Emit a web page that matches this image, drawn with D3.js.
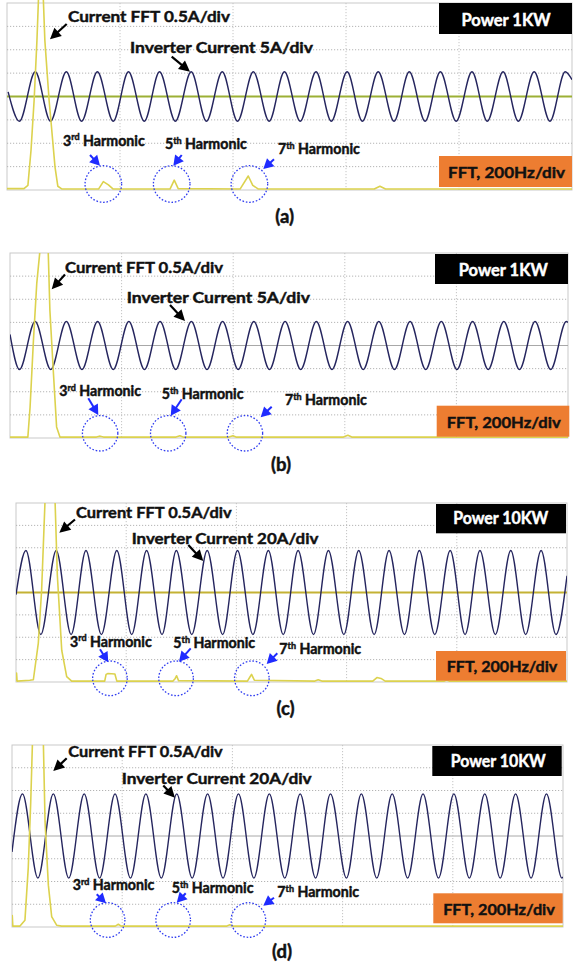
<!DOCTYPE html>
<html>
<head>
<meta charset="utf-8">
<script src="https://cdn.jsdelivr.net/npm/d3@7"></script>
<style>
  body { margin: 0; background: #fff; }
  svg { display: block; }
  text { font-family: Lato, "Open Sans", sans-serif; font-weight: bold; stroke-width: 0.45px; paint-order: stroke; }
</style>
</head>
<body>
<script>
// ---- data ----
// time axis in scope divisions (0..10), current in A, FFT in Hz / A
const panelTags = ["(a)", "(b)", "(c)", "(d)"];
const powerLabels = ["Power 1KW", "Power 1KW", "Power 10KW", "Power 10KW"];
const currentLabels = ["Inverter Current 5A/div", "Inverter Current 5A/div", "Inverter Current 20A/div", "Inverter Current 20A/div"];
const currentPerDiv = [5, 5, 20, 20];
const fftPerDiv = 0.5;      // A/div
const hzPerDiv = 200;       // Hz/div
const harmonicNames = [["3", "rd"], ["5", "th"], ["7", "th"]];

// inverter current: peak / trough instants (div) and peak value (A)
const peaksA   = [0.50, 1.05, 1.60, 2.15, 2.70, 3.26, 3.81, 4.36, 4.91, 5.47, 6.02, 6.57, 7.12, 7.67, 8.23, 8.78, 9.33, 9.88];
const troughsA = [0.22, 0.77, 1.32, 1.88, 2.43, 2.98, 3.53, 4.08, 4.64, 5.19, 5.74, 6.29, 6.85, 7.40, 7.95, 8.50, 9.05, 9.61];
const peaksB   = [0.45, 1.01, 1.57, 2.13, 2.69, 3.25, 3.81, 4.37, 4.93, 5.49, 6.05, 6.61, 7.17, 7.73, 8.29, 8.85, 9.41, 9.97];
const troughsB = [0.17, 0.73, 1.29, 1.85, 2.41, 2.97, 3.53, 4.09, 4.65, 5.21, 5.77, 6.33, 6.89, 7.45, 8.01, 8.57, 9.13, 9.69];
const peaksC   = [0.18, 0.73, 1.27, 1.83, 2.37, 2.91, 3.47, 4.02, 4.58, 5.12, 5.67, 6.22, 6.77, 7.32, 7.88, 8.42, 8.98, 9.53];
const troughsC = [0.45, 1.00, 1.55, 2.10, 2.65, 3.19, 3.75, 4.30, 4.85, 5.40, 5.95, 6.50, 7.05, 7.60, 8.15, 8.70, 9.25, 9.80];
const peaksD   = [0.19, 0.75, 1.31, 1.87, 2.43, 2.99, 3.55, 4.11, 4.67, 5.23, 5.78, 6.34, 6.90, 7.46, 8.02, 8.58, 9.14, 9.70];
const troughsD = [0.47, 1.03, 1.59, 2.15, 2.71, 3.27, 3.83, 4.39, 4.95, 5.51, 6.07, 6.62, 7.18, 7.74, 8.30, 8.86, 9.42, 9.98];
const peakAmps = [5.3, 5.2, 37.5, 37];
const traceStarts = [[0.02, 1.0], [0, 2.4], [0, -2], [0, -14]];
const traceEnds = [[10, 3.6], [10, 5.0], [10, 15], [10, -36]];

// current FFT [Hz, A]
const fftA = [[0,0.03],[60,0.03],[74,0.1],[85,0.85],[96,1.92],[106,3.2],[120,5.5],[134,3.2],[149,1.92],[156,1.45],[170,0.49],[180,0.08],[195,0.02],
  [324,0.02],[341,0.18],[359,0.11],[376,0.02],[577,0.02],[592,0.21],[606,0.03],[825,0.02],[854,0.3],[870,0.1],[890,0.02],
  [1300,0.02],[1320,0.08],[1340,0.02],[2000,0.02]];
const fftB = [[0,0.02],[64,0.02],[72,0.67],[84,2.11],[96,3.35],[107,4.03],[122,5.5],[137,4.03],[143,2.76],[155,1.47],[167,0.24],[179,0.02],
  [310,0.02],[323,0.04],[335,0.02],[595,0.02],[609,0.05],[620,0.02],[785,0.02],[799,0.05],[810,0.02],[1195,0.02],[1211,0.06],[1225,0.02],[2000,0.02]];
const fftC = [[0,0.02],[2,0.2],[4,0.02],[50,0.04],[63,0.05],[81,0.87],[93,2.05],[105,3.99],[118,5.5],[142,4.0],[150,2.39],[166,0.71],[184,0.12],[202,0.02],
  [322,0.02],[327,0.17],[334,0.19],[359,0.18],[366,0.02],[570,0.02],[578,0.08],[583,0.14],[590,0.03],[840,0.02],[848,0.1],[855,0.17],[865,0.04],
  [1085,0.02],[1097,0.05],[1110,0.02],[1295,0.02],[1310,0.1],[1325,0.08],[1340,0.02],[1555,0.02],[1563,0.04],[1572,0.02],[2000,0.02]];
const fftD = [[0,0.02],[1,0.25],[3,0.02],[29,0.02],[47,0.15],[59,1.3],[68,2.75],[74,4.0],[94,5.5],[114,4.0],[120,2.31],[132,0.92],[144,0.23],[162,0.04],[180,0.02],
  [375,0.02],[386,0.06],[396,0.02],[780,0.02],[791,0.05],[800,0.02],[2000,0.02]];

// harmonic frequencies circled on each panel (Hz)
const harmonicHz = [[341, 583, 858], [323, 567, 842], [341, 581, 856], [347, 585, 858]];
// reference (zero) line of the FFT channel, only visible on (a) and (c)
const zeroLineColor = ["#9cb035", null, "#c4b234", null];

const peaks = [peaksA, peaksB, peaksC, peaksD];
const troughs = [troughsA, troughsB, troughsC, troughsD];
const ffts = [fftA, fftB, fftC, fftD];

// ---- layout (pixels) ----
const layout = [
  { frame: [7, 3, 572, 190], fftLab: [68, 22, 162], fftArr: [66.7, 24, 50, 39.3], invLab: [130, 52.5, 183], invArr: [171.7, 56.7, 190, 71.7],
    power: [439, 3, 133, 31, 506, 26, 89], fftBox: [439, 156, 133, 31, 506.5, 177.5, 117],
    harm: [[63, 145.7], [165, 149], [278, 154]], hArr: [[90, 155, 100, 165.7], [181.7, 155, 173.3, 165.7], [274, 159.3, 263.3, 169]],
    circ: [18.3, 6], tag: [284.7, 223] },
  { frame: [10, 253, 568, 438], fftLab: [65, 272.7, 158], fftArr: [65, 274.5, 51.7, 289.3], invLab: [126.7, 303.3, 183.3], invArr: [170, 305, 185, 321],
    power: [435, 254, 133, 30, 503.3, 276, 89], fftBox: [436.7, 405.7, 132.6, 31, 503.7, 428, 114],
    harm: [[59.3, 396], [161.7, 399.3], [285, 405]], hArr: [[88.3, 398.3, 98.3, 415], [181.7, 399.3, 170.7, 415.7], [271.7, 406.7, 260.7, 417.3]],
    circ: [17.7, 4.7], tag: [281, 471] },
  { frame: [16, 503, 567, 682], fftLab: [76, 518.3, 155.7], fftArr: [75, 519.5, 59.3, 532.7], invLab: [131.7, 544, 186.7], invArr: [188.3, 545, 203.3, 561],
    power: [436, 504, 130, 29.3, 500.8, 524.3, 95], fftBox: [436, 651, 130, 29.7, 502, 671.7, 110.6],
    harm: [[70, 646.7], [173.3, 648.3], [279.3, 654]], hArr: [[100, 649.3, 108.3, 662.3], [190.7, 648.3, 179, 661.7], [277.3, 653.3, 266.7, 664]],
    circ: [17.3, 3.7], tag: [285.5, 715] },
  { frame: [12, 745, 563, 927], fftLab: [68.3, 756.7, 154.4], fftArr: [66.7, 758.3, 53.3, 771], invLab: [121.7, 784.3, 190], invArr: [163.3, 785.5, 175, 797.7],
    power: [432.3, 746, 129.4, 30, 498.3, 766.7, 95], fftBox: [433.3, 893.3, 129.4, 30, 499, 915, 111.7],
    harm: [[72.7, 890.3], [171.7, 893.3], [277.3, 897.3]], hArr: [[96.7, 894.3, 106, 903.3], [185.7, 893.3, 176.7, 902.7], [274, 897.7, 263.3, 905.7]],
    circ: [17.3, 7], tag: [282, 958] }
];

const W = 573, H = 966;
const svg = d3.select("body").append("svg").attr("width", W).attr("height", H);
const defs = svg.append("defs");

let drawArrow = (g, a, color, len = 10, half = 5, width = 2) => {
  const [x1, y1, x2, y2] = a;
  const ang = Math.atan2(y2 - y1, x2 - x1);
  const bx = x2 - len * Math.cos(ang), by = y2 - len * Math.sin(ang);
  g.append("line").attr("x1", x1).attr("y1", y1).attr("x2", bx + Math.cos(ang)).attr("y2", by + Math.sin(ang))
    .attr("stroke", color).attr("stroke-width", width);
  const px = -Math.sin(ang) * half, py = Math.cos(ang) * half;
  g.append("path").attr("d", `M${x2},${y2}L${bx + px},${by + py}L${bx - px},${by - py}Z`).attr("fill", color);
};

let wavePoints = (i) => {
  const amp = peakAmps[i];
  const pts = [traceStarts[i]]
    .concat(peaks[i].map(t => [t, amp]))
    .concat(troughs[i].map(t => [t, -amp]))
    .concat([traceEnds[i]]);
  return pts.sort((p, q) => p[0] - q[0]);
};

layout.forEach((L, i) => {
  const [x0, y0, x1, y1] = L.frame;
  const g = svg.append("g");

  const x = d3.scaleLinear().domain([0, 10]).range([x0, x1]);
  const y = d3.scaleLinear().domain([-4 * currentPerDiv[i], 4 * currentPerDiv[i]]).range([y1, y0]);
  const fx = d3.scaleLinear().domain([0, 10 * hzPerDiv]).range([x0, x1]);
  const fy = d3.scaleLinear().domain([0, 8 * fftPerDiv]).range([y1, y0]);
  const gridY = d3.scaleLinear().domain([0, 8]).range([y1, y0]);

  // grid
  g.append("rect").attr("x", x0).attr("y", y0).attr("width", x1 - x0).attr("height", y1 - y0)
    .attr("fill", "#fff").attr("stroke", "#c9c9c9").attr("stroke-width", 1);
  g.append("g").selectAll("line").data(d3.range(1, 8)).join("line")
    .attr("x1", x0).attr("x2", x1).attr("y1", d => gridY(d)).attr("y2", d => gridY(d))
    .attr("stroke", d => d === 4 ? "#a8a8a8" : "#b4b4b4")
    .attr("stroke-width", 1)
    .attr("stroke-dasharray", d => d === 4 ? null : "1.2,1.8");
  g.append("g").selectAll("line").data([2, 4, 6, 8]).join("line")
    .attr("x1", d => x(d)).attr("x2", d => x(d)).attr("y1", y0).attr("y2", y1)
    .attr("stroke", "#c4c4c4").attr("stroke-width", 1).attr("stroke-dasharray", "1.2,1.8");

  const clipId = "clip" + i;
  defs.append("clipPath").attr("id", clipId).append("rect")
    .attr("x", x0).attr("y", i === 0 ? 0 : y0).attr("width", x1 - x0).attr("height", y1 - (i === 0 ? 0 : y0) + 2);
  const plot = g.append("g").attr("clip-path", `url(#${clipId})`);

  if (zeroLineColor[i]) {
    plot.append("line").attr("x1", x0).attr("x2", x1).attr("y1", y(0)).attr("y2", y(0))
      .attr("stroke", zeroLineColor[i]).attr("stroke-width", 2.2);
  }

  // inverter current trace
  plot.append("path").datum(wavePoints(i))
    .attr("fill", "none").attr("stroke", "#25255e").attr("stroke-width", 1.4)
    .attr("d", d3.line().x(d => x(d[0])).y(d => y(d[1])).curve(d3.curveMonotoneX));

  // current FFT trace
  plot.append("path").datum(ffts[i])
    .attr("fill", "none").attr("stroke", "#dcd24e").attr("stroke-width", 1.6).attr("stroke-linejoin", "round")
    .attr("d", d3.line().x(d => fx(d[0])).y(d => fy(d[1])));

  // harmonic circles
  g.append("g").selectAll("circle").data(harmonicHz[i]).join("circle")
    .attr("cx", d => fx(d)).attr("cy", y1 - L.circ[1]).attr("r", L.circ[0])
    .attr("fill", "none").attr("stroke", "#2f3cf0").attr("stroke-width", 1.3).attr("stroke-dasharray", "1.6,1.8");

  // labels with black arrows
  const ann = svg.append("g");
  ann.append("text").attr("x", L.fftLab[0]).attr("y", L.fftLab[1]).attr("font-size", 16)
    .attr("textLength", L.fftLab[2]).attr("lengthAdjust", "spacingAndGlyphs").attr("fill", "#111").attr("stroke", "#111")
    .text("Current FFT 0.5A/div");
  drawArrow(ann, L.fftArr, "#000", 11, 5.5, 2.2);
  ann.append("text").attr("x", L.invLab[0]).attr("y", L.invLab[1]).attr("font-size", 16)
    .attr("textLength", L.invLab[2]).attr("lengthAdjust", "spacingAndGlyphs").attr("fill", "#111").attr("stroke", "#111")
    .text(currentLabels[i]);
  drawArrow(ann, L.invArr, "#000", 11, 5.5, 2.2);

  // boxes
  const pb = L.power;
  ann.append("rect").attr("x", pb[0]).attr("y", pb[1]).attr("width", pb[2]).attr("height", pb[3]).attr("fill", "#000");
  ann.append("text").attr("x", pb[4]).attr("y", pb[5]).attr("text-anchor", "middle").attr("font-size", 16.5)
    .attr("textLength", pb[6]).attr("lengthAdjust", "spacingAndGlyphs").attr("fill", "#fff").attr("stroke", "#fff").text(powerLabels[i]);
  const fb = L.fftBox;
  ann.append("rect").attr("x", fb[0]).attr("y", fb[1]).attr("width", fb[2]).attr("height", fb[3]).attr("fill", "#ed7d31");
  ann.append("text").attr("x", fb[4]).attr("y", fb[5]).attr("text-anchor", "middle").attr("font-size", 16)
    .attr("textLength", fb[6]).attr("lengthAdjust", "spacingAndGlyphs").attr("fill", "#111").attr("stroke", "#111").text("FFT, " + hzPerDiv + "Hz/div");

  // harmonic labels + blue arrows
  harmonicNames.forEach((h, k) => {
    const t = ann.append("text").attr("x", L.harm[k][0]).attr("y", L.harm[k][1]).attr("font-size", 14.2)
      .attr("fill", "#111").attr("stroke", "#111");
    t.append("tspan").text(h[0]);
    t.append("tspan").attr("dy", -5.5).attr("font-size", 9).text(h[1]);
    t.append("tspan").attr("dy", 5.5).text(" Harmonic");
    drawArrow(ann, L.hArr[k], "#1f2bff", 10, 5.5, 2);
  });

  ann.append("text").attr("x", L.tag[0]).attr("y", L.tag[1]).attr("text-anchor", "middle")
    .attr("font-size", 18.5).attr("fill", "#111").attr("stroke", "#111").text(panelTags[i]);
});
</script>
</body>
</html>
